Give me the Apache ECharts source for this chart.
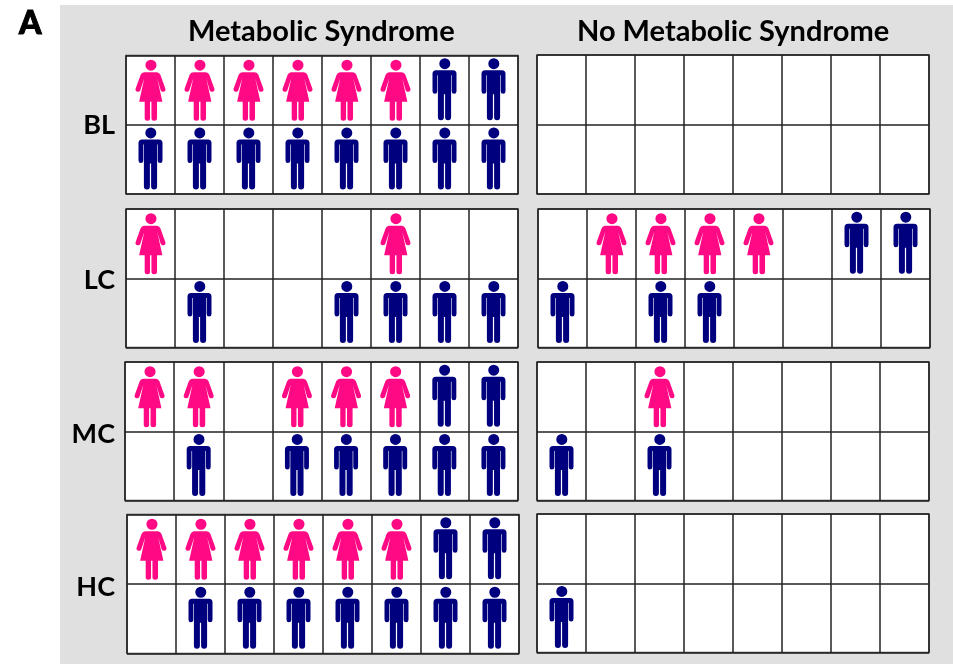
<!DOCTYPE html>
<html>
<head>
<meta charset="utf-8">
<title>Metabolic Syndrome</title>
<script src="https://cdn.jsdelivr.net/npm/echarts@6/dist/echarts.min.js"></script>
<style>
html, body { margin: 0; padding: 0; background: #fff; }
#map { width: 953px; height: 664px; }
</style>
</head>
<body>
<div id="map"></div>
<script>
// F = woman, M = man, '' = empty cell. Each list runs left to right.
const columns = ['1', '2', '3', '4', '5', '6', '7', '8']
const rowNames = ['lower', 'upper']
const groupNames = ['Metabolic Syndrome', 'No Metabolic Syndrome']
const visitNames = ['BL', 'LC', 'MC', 'HC']

const blMetUpper = ['F', 'F', 'F', 'F', 'F', 'F', 'M', 'M']
const blMetLower = ['M', 'M', 'M', 'M', 'M', 'M', 'M', 'M']
const blNoUpper = ['', '', '', '', '', '', '', '']
const blNoLower = ['', '', '', '', '', '', '', '']
const lcMetUpper = ['F', '', '', '', '', 'F', '', '']
const lcMetLower = ['', 'M', '', '', 'M', 'M', 'M', 'M']
const lcNoUpper = ['', 'F', 'F', 'F', 'F', '', 'M', 'M']
const lcNoLower = ['M', '', 'M', 'M', '', '', '', '']
const mcMetUpper = ['F', 'F', '', 'F', 'F', 'F', 'M', 'M']
const mcMetLower = ['', 'M', '', 'M', 'M', 'M', 'M', 'M']
const mcNoUpper = ['', '', 'F', '', '', '', '', '']
const mcNoLower = ['M', '', 'M', '', '', '', '', '']
const hcMetUpper = ['F', 'F', 'F', 'F', 'F', 'F', 'M', 'M']
const hcMetLower = ['', 'M', 'M', 'M', 'M', 'M', 'M', 'M']
const hcNoUpper = ['', '', '', '', '', '', '', '']
const hcNoLower = ['M', '', '', '', '', '', '', '']

const panels = [
  [blMetUpper, blMetLower], [blNoUpper, blNoLower],
  [lcMetUpper, lcMetLower], [lcNoUpper, lcNoLower],
  [mcMetUpper, mcMetLower], [mcNoUpper, mcNoLower],
  [hcMetUpper, hcMetLower], [hcNoUpper, hcNoLower]
]

const womanPath = 'path://M10.2 5.5a5.5 5.5 0 1 1 11 0a5.5 5.5 0 1 1 -11 0ZM9 12.5L21.5 12.5Q24 12.5 25 15L30 29Q30.5 31.5 28 32Q26 32.2 25.3 30.5L21.9 18.5L27 42L21.7 42L21.7 58.5Q21.7 61 18.9 61Q16.2 61 16.2 58.5L16.2 42L14.8 42L14.8 58.5Q14.8 61 12.2 61Q9.5 61 9.5 58.5L9.5 42L4 42L9.1 18.5L5.2 30.5Q4.5 32.2 2.5 32Q0 31.5 .5 29L5.5 15Q6.5 12.5 9 12.5Z'
const manPath = 'path://M6.8 5.5a5.5 5.5 0 1 1 11 0a5.5 5.5 0 1 1 -11 0ZM3.5 12L20.5 12Q24 12 24 15.5L24 33Q24 35.5 21.6 35.5Q19.2 35.5 19.2 33L19.2 17L18.6 17L18.6 59Q18.6 62 15.6 62Q12.6 62 12.6 59L12.6 36L11.4 36L11.4 59Q11.4 62 8.4 62Q5.4 62 5.4 59L5.4 17L4.8 17L4.8 33Q4.8 35.5 2.4 35.5Q0 35.5 0 33L0 15.5Q0 12 3.5 12Z'

// left, top, width, height of each panel
const gridBoxes = [
  [126, 55.5, 392, 138.5], [537, 55, 392, 139],
  [126, 209, 392, 138.5], [538, 209, 392, 138.5],
  [125, 362, 393, 138.5], [537, 362, 392, 138.5],
  [127, 514.5, 392, 139], [537, 514, 392, 138.5]
]

const pick = (panel, kind) => {
  const out = []
  panel.forEach((row, r) => {
    row.forEach((who, c) => {
      if (who === kind) out.push([columns[c], rowNames[1 - r]])
    })
  })
  return out
}

const grid = []
const xAxis = []
const yAxis = []
const series = []
panels.forEach((panel, i) => {
  const box = gridBoxes[i]
  grid.push({
    show: true,
    left: box[0],
    top: box[1],
    width: box[2],
    height: box[3],
    backgroundColor: '#fff',
    borderColor: '#444',
    borderWidth: 1.5
  })
  xAxis.push({
    type: 'category',
    gridIndex: i,
    data: columns,
    axisLine: { show: false },
    axisTick: { show: false },
    axisLabel: { show: false },
    splitLine: { show: true, interval: 0, lineStyle: { color: '#222', width: 1.5 } }
  })
  yAxis.push({
    type: 'category',
    gridIndex: i,
    data: rowNames,
    axisLine: { show: false },
    axisTick: { show: false },
    axisLabel: { show: false },
    splitLine: { show: true, interval: 0, lineStyle: { color: '#222', width: 1.5 } }
  })
  series.push({
    name: 'Female',
    type: 'scatter',
    xAxisIndex: i,
    yAxisIndex: i,
    symbol: womanPath,
    symbolSize: [30, 61],
    itemStyle: { color: '#ff0a84', opacity: 1 },
    data: pick(panel, 'F')
  })
  series.push({
    name: 'Male',
    type: 'scatter',
    xAxisIndex: i,
    yAxisIndex: i,
    symbol: manPath,
    symbolSize: [24, 62],
    symbolOffset: [0, -1],
    itemStyle: { color: '#00007f', opacity: 1 },
    data: pick(panel, 'M')
  })
})

const textFont = 'Lato, "Open Sans", sans-serif'
const title = [
  {
    text: 'A',
    left: 14,
    top: 3,
    textStyle: { fontFamily: textFont, fontSize: 32, fontWeight: 900, color: '#000', textBorderColor: '#000', textBorderWidth: 1 }
  },
  { text: groupNames[0], left: 183, top: 12, textStyle: { fontFamily: textFont, fontSize: 29, fontWeight: 'bold', color: '#000' } },
  { text: groupNames[1], left: 572, top: 12, textStyle: { fontFamily: textFont, fontSize: 29, fontWeight: 'bold', color: '#000' } }
]
const labelTops = [107, 262, 416, 569]
visitNames.forEach((name, i) => {
  title.push({
    text: name,
    right: 833,
    top: labelTops[i],
    textStyle: { fontFamily: textFont, fontSize: 27, fontWeight: 'bold', color: '#000' }
  })
})

const dom = document.getElementById('map')
const myChart = echarts.init(dom, null, { renderer: 'canvas' })
myChart.setOption({
  animation: false,
  backgroundColor: '#fff',
  graphic: [{
    type: 'rect',
    z: -1,
    shape: { x: 60, y: 5, width: 893, height: 659 },
    style: { fill: '#e0e0e0' }
  }],
  tooltip: { show: false },
  title,
  grid,
  xAxis,
  yAxis,
  series
})
</script>
</body>
</html>
